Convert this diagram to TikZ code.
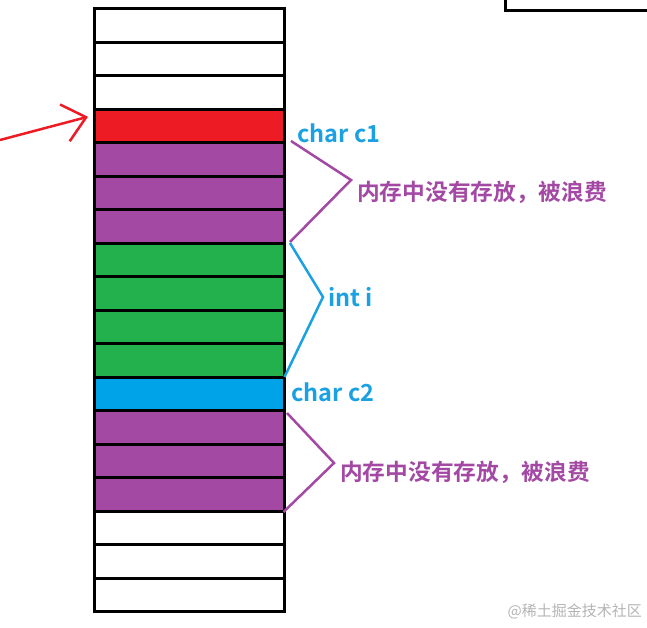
\documentclass[tikz,border=0pt]{standalone}
\usepackage{fontspec}
\setmainfont{Noto Sans CJK SC}[BoldFont={Noto Sans CJK SC Bold}]
\usetikzlibrary{arrows.meta}
\definecolor{paintred}{HTML}{ED1C24}
\definecolor{paintpurple}{HTML}{A349A4}
\definecolor{paintgreen}{HTML}{22B14C}
\definecolor{paintblue}{HTML}{00A2E8}
\definecolor{labelblue}{HTML}{1BA1E2}
\definecolor{markgray}{HTML}{B4B4B4}

\begin{document}
\begin{tikzpicture}[x=1pt,y=-1pt,
  cell/.style={draw,line width=3pt,minimum width=190pt,minimum height=33.5pt,inner sep=0pt,outer sep=0pt,anchor=north west},
  brace/.style={line width=2.5pt},
  memlabel/.style={font=\fontsize{23.5}{26}\selectfont\bfseries,inner sep=0pt,anchor=base west},
  wastelabel/.style={font=\fontsize{22.7}{26}\selectfont\bfseries,inner sep=0pt,anchor=base west,paintpurple}]

  \useasboundingbox (0,0) rectangle (647,627);
  % memory cells, top to bottom
  \foreach \col [count=\i] in {white,white,white,paintred,paintpurple,paintpurple,paintpurple,paintgreen,paintgreen,paintgreen,paintgreen,paintblue,paintpurple,paintpurple,paintpurple,white,white,white}
    \node[cell,fill=\col] (c\i) at (94.5,{8.5+(\i-1)*33.5}) {};

  % corner of the next block
  \draw[line width=3pt] (505,0) -- (505,10) -- (647,10);

  % pointer to c1
  \coordinate (ptr) at (0,140);
  \draw[paintred,line width=2.5pt,-{Straight Barb[length=22pt,width=38pt]}] (ptr) -- ([shift={(-6.5,-9)}]c4.west);

  % brackets
  \coordinate (tipA) at (351,180);
  \coordinate (tipB) at (323,297);
  \coordinate (tipC) at (334,463);
  \draw[brace,paintpurple] ([shift={(6.5,-1.5)}]c5.north east) -- (tipA) -- ([shift={(5.5,-1)}]c7.south east);
  \draw[brace,labelblue] ([shift={(5.5,0)}]c8.north east) -- (tipB) -- (c11.south east);
  \draw[brace,paintpurple] ([shift={(2.5,2.5)}]c13.north east) -- (tipC) -- ([shift={(-1,1)}]c15.south east);

  % labels
  \node[memlabel,labelblue] (c1name) at (297,142) {char c1};
  \node[wastelabel] (wasteA) at (357,200) {内存中没有存放，被浪费};
  \node[memlabel,labelblue] (iname) at (328,306) {int i};
  \node[memlabel,labelblue] (c2name) at (291,401) {char c2};
  \node[wastelabel] (wasteB) at (340,480) {内存中没有存放，被浪费};
  \node[markgray,font=\fontsize{15}{15}\selectfont,inner sep=0pt,anchor=east] (mark) at (642,611) {@稀土掘金技术社区};
\end{tikzpicture}
\end{document}
